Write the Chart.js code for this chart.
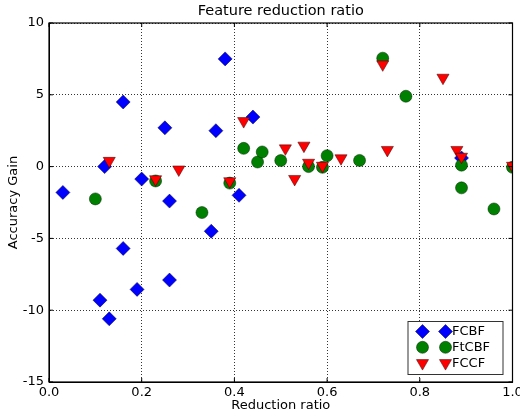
<!DOCTYPE html>
<html>
<head>
<meta charset="utf-8">
<script src="https://cdn.jsdelivr.net/npm/chart.js@4/dist/chart.umd.min.js"></script>
<style>
  html, body { margin: 0; padding: 0; background: #fff; }
</style>
</head>
<body>
<canvas id="ratioChart" width="520" height="415"></canvas>
<script>
"use strict";

// values
var fcbfX = [0.03, 0.11, 0.12, 0.13, 0.16, 0.16, 0.19, 0.20, 0.25, 0.26, 0.26, 0.35, 0.36, 0.38, 0.41, 0.44, 0.89];
var fcbfY = [-1.8, -9.3, 0.0, -10.6, 4.5, -5.7, -8.55, -0.87, 2.7, -2.4, -7.9, -4.5, 2.5, 7.5, -2.0, 3.45, 0.6];

var ftcbfX = [0.10, 0.23, 0.33, 0.39, 0.42, 0.45, 0.46, 0.50, 0.56, 0.59, 0.60, 0.67, 0.72, 0.77, 0.89, 0.89, 0.96, 1.00];
var ftcbfY = [-2.25, -1.0, -3.2, -1.15, 1.27, 0.32, 1.02, 0.42, 0.0, -0.05, 0.76, 0.43, 7.55, 4.9, 0.1, -1.48, -2.95, -0.05];

var fccfX = [0.13, 0.23, 0.28, 0.39, 0.42, 0.51, 0.53, 0.55, 0.56, 0.59, 0.63, 0.72, 0.73, 0.85, 0.88, 0.89, 1.00];
var fccfY = [0.4, -0.88, -0.2, -1.02, 3.17, 1.27, -0.86, 1.46, 0.27, 0.06, 0.58, 7.12, 1.16, 6.19, 1.16, 0.69, 0.06];

var seriesNames = ["FCBF", "FtCBF", "FCCF"];
var xTicks = [0, 0.2, 0.4, 0.6, 0.8, 1.0];
var yTicks = [-15, -10, -5, 0, 5, 10];

var FONT = "'DejaVu Sans', 'Liberation Sans', sans-serif";
Chart.defaults.font.family = FONT;
Chart.defaults.color = "#000";

function pts(xs, ys) {
	return xs.map(function (x, i) { return { x: x, y: ys[i] }; });
}

// title over the plot area, matplotlib style
var titlePlugin = {
	id: 'plotTitle',
	afterDraw: function (chart) {
		var ctx = chart.ctx, a = chart.chartArea;
		ctx.save();
		ctx.fillStyle = "#000";
		ctx.font = "14.5px " + FONT;
		ctx.textAlign = "center";
		ctx.textBaseline = "middle";
		ctx.fillText("Feature reduction ratio", (a.left + a.right) / 2, 11);
		ctx.restore();
	}
};

// solid frame round the axes, inward ticks, legend with two markers per entry
var framePlugin = {
	id: 'frameLegend',
	afterDatasetsDraw: function (chart) {
		var ctx = chart.ctx, a = chart.chartArea;
		var sx = chart.scales.x, sy = chart.scales.y;
		ctx.save();
		ctx.strokeStyle = "#000";
		ctx.lineWidth = 1;
		ctx.beginPath();
		xTicks.forEach(function (v) {
			var px = sx.getPixelForValue(v);
			ctx.moveTo(px, a.bottom); ctx.lineTo(px, a.bottom - 4);
			ctx.moveTo(px, a.top); ctx.lineTo(px, a.top + 4);
		});
		yTicks.forEach(function (v) {
			var py = sy.getPixelForValue(v);
			ctx.moveTo(a.left, py); ctx.lineTo(a.left + 4, py);
			ctx.moveTo(a.right, py); ctx.lineTo(a.right - 4, py);
		});
		ctx.stroke();

		ctx.lineWidth = 1.2;
		ctx.strokeRect(a.left, a.top, a.right - a.left, a.bottom - a.top);

		var w = 95, h = 53;
		var x0 = a.right - 10 - w, y0 = a.bottom - 8 - h;
		ctx.fillStyle = "#fff";
		ctx.fillRect(x0, y0, w, h);
		ctx.strokeStyle = "#333";
		ctx.lineWidth = 1;
		ctx.strokeRect(x0 + 0.5, y0 + 0.5, w, h);

		ctx.font = "13px " + FONT;
		ctx.textBaseline = "middle";
		ctx.textAlign = "left";
		chart.data.datasets.forEach(function (ds, i) {
			var yy = y0 + 10.5 + i * 15.8;
			var st = {
				pointStyle: ds.pointStyle,
				radius: ds.pointRadius,
				rotation: ds.rotation || 0,
				borderWidth: ds.borderWidth
			};
			[x0 + 15, x0 + 38].forEach(function (xx) {
				ctx.fillStyle = ds.backgroundColor;
				ctx.strokeStyle = ds.borderColor;
				ctx.lineWidth = ds.borderWidth;
				Chart.helpers.drawPoint(ctx, st, xx, yy);
			});
			ctx.fillStyle = "#000";
			ctx.fillText(ds.label, x0 + 44.5, yy + 0.5);
		});
		ctx.restore();
	}
};

var ctx = document.getElementById("ratioChart");
var config = {
	type: 'scatter',
	data: {
		datasets: [{
			label: seriesNames[0],
			data: pts(fcbfX, fcbfY),
			pointStyle: 'rectRot',
			pointRadius: 7,
			backgroundColor: '#0000ff',
			borderColor: '#000033',
			borderWidth: 0.5,
			order: 3,
			clip: 0
		}, {
			label: seriesNames[1],
			data: pts(ftcbfX, ftcbfY),
			pointStyle: 'circle',
			pointRadius: 6,
			backgroundColor: '#008000',
			borderColor: '#002200',
			borderWidth: 0.5,
			order: 2,
			clip: 0
		}, {
			label: seriesNames[2],
			data: pts(fccfX, fccfY),
			pointStyle: 'triangle',
			rotation: 180,
			pointRadius: 7,
			backgroundColor: '#ff0000',
			borderColor: '#330000',
			borderWidth: 0.5,
			order: 1,
			clip: 0
		}]
	},
	options: {
		responsive: false,
		animation: false,
		layout: { padding: { top: 23, right: 7, left: 0, bottom: 0 } },
		plugins: {
			legend: { display: false },
			tooltip: { enabled: false },
			title: { display: false }
		},
		elements: { point: { hoverRadius: 7 } },
		scales: {
			x: {
				type: 'linear',
				min: 0,
				max: 1,
				afterBuildTicks: function (s) { s.ticks = xTicks.map(function (v) { return { value: v }; }); },
				afterFit: function (s) { s.height = 33; s.paddingLeft = 0; s.paddingRight = 0; },
				ticks: {
					padding: 3,
					maxRotation: 0,
					font: { size: 13 },
					callback: function (v) { return Number(v).toFixed(1); }
				},
				grid: { color: '#000', lineWidth: 0.8, drawTicks: false },
				border: { display: true, color: '#000', dash: [1, 2] },
				title: { display: true, text: 'Reduction ratio', font: { size: 13 }, padding: { top: 0, bottom: 2 } }
			},
			y: {
				type: 'linear',
				min: -15,
				max: 10,
				afterBuildTicks: function (s) { s.ticks = yTicks.map(function (v) { return { value: v }; }); },
				afterFit: function (s) { s.width = 49; s.paddingTop = 0; s.paddingBottom = 0; },
				ticks: {
					padding: 5,
					font: { size: 13 }
				},
				grid: { color: '#000', lineWidth: 0.8, drawTicks: false },
				border: { display: true, color: '#000', dash: [1, 2] },
				title: { display: true, text: 'Accuracy Gain', font: { size: 13 }, padding: { top: 6, bottom: 0 } }
			}
		}
	},
	plugins: [titlePlugin, framePlugin]
};
var ratioChart = new Chart(ctx, config);
</script>
</body>
</html>
